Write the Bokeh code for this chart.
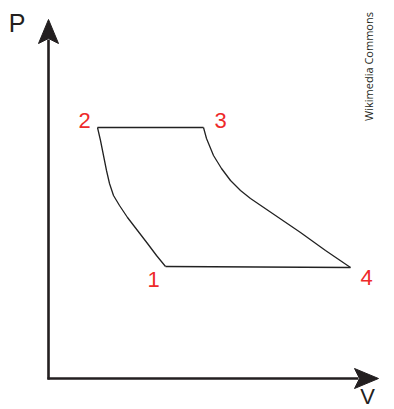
from bokeh.plotting import figure
from bokeh.models import Range1d
from bokeh.core.properties import value
from bokeh.embed import file_html
from bokeh.resources import INLINE

# --- data (V, P in arbitrary units) ---
state_labels = ["1", "2", "3", "4"]
state_V = [11.7, 4.9, 15.5, 30.2]
state_P = [11.2, 25.1, 25.1, 11.1]

# 1 -> 2 compression curve
comp_V = [11.7, 10.8, 9.9, 8.9, 7.9, 7.1, 6.5, 6.1, 5.8, 5.5, 5.2, 4.9]
comp_P = [11.2, 12.3, 13.5, 14.8, 16.1, 17.3, 18.3, 19.5, 20.8, 22.3, 23.8, 25.1]

# 3 -> 4 expansion curve
exp_V = [15.5, 15.8, 16.5, 17.3, 18.2, 19.2, 20.2, 22.7, 25.2, 27.7, 30.2]
exp_P = [25.1, 24.0, 22.3, 21.0, 19.8, 18.8, 18.0, 16.3, 14.6, 12.8, 11.1]

axis_V_max = 33.0
axis_P_max = 35.9

PX = 0.1  # data units per screen pixel

p = figure(width=394, height=409, output_backend="svg", toolbar_location=None,
           x_range=Range1d(-4.8, 34.6), y_range=Range1d(-3.1, 37.8),
           min_border=0)
p.axis.visible = False
p.grid.visible = False
p.outline_line_color = None
p.background_fill_color = "white"

# --- axes with arrows ---
lw = 2.6
p.line([0, 0], [-0.1, axis_P_max - 20 * PX], line_color="#231f20", line_width=lw)
p.line([-0.1, axis_V_max - 20 * PX], [0, 0], line_color="#231f20", line_width=lw)

hl, hw, notch = 24 * PX, 10 * PX, 5 * PX
p.patch([0, hw, 0, -hw], [axis_P_max, axis_P_max - hl, axis_P_max - hl + notch, axis_P_max - hl],
        fill_color="#231f20", line_color="#231f20", line_width=1)
p.patch([axis_V_max, axis_V_max - hl, axis_V_max - hl + notch, axis_V_max - hl], [0, hw, 0, -hw],
        fill_color="#231f20", line_color="#231f20", line_width=1)

# --- cycle ---
cyc = dict(line_color="#222222", line_width=1.3)
p.line(comp_V, comp_P, **cyc)
p.line(exp_V, exp_P, **cyc)
p.line([state_V[1], state_V[2]], [state_P[1], state_P[2]], **cyc)
p.line([state_V[0], state_V[3]], [state_P[0], state_P[3]], **cyc)

# --- state labels ---
off_x = [-1.2, -1.3, 1.7, 1.6]
off_y = [-1.3, 0.7, 0.7, -1.0]
p.text([v + dx for v, dx in zip(state_V, off_x)], [pp + dy for pp, dy in zip(state_P, off_y)],
       text=state_labels, text_color="#ee2a2a", text_font=value("Liberation Sans"),
       text_font_size="22px", text_align="center", text_baseline="middle")

# --- axis labels ---
p.text([-3.15], [35.6], text=["P"], text_color="#231f20", text_font=value("Liberation Sans"),
       text_font_size="25px", text_align="center", text_baseline="middle")
p.text([31.9], [-1.75], text=["V"], text_color="#231f20", text_font=value("Liberation Sans"),
       text_font_size="22px", text_align="center", text_baseline="alphabetic")

# --- credit ---
p.text([32.0], [31.2], text=["Wikimedia Commons"], text_color="#231f20",
       text_font=value("Open Sans"), text_font_size="11px", angle=1.5708,
       text_align="center", text_baseline="middle")

open("out.html", "w").write(file_html(p, INLINE))
